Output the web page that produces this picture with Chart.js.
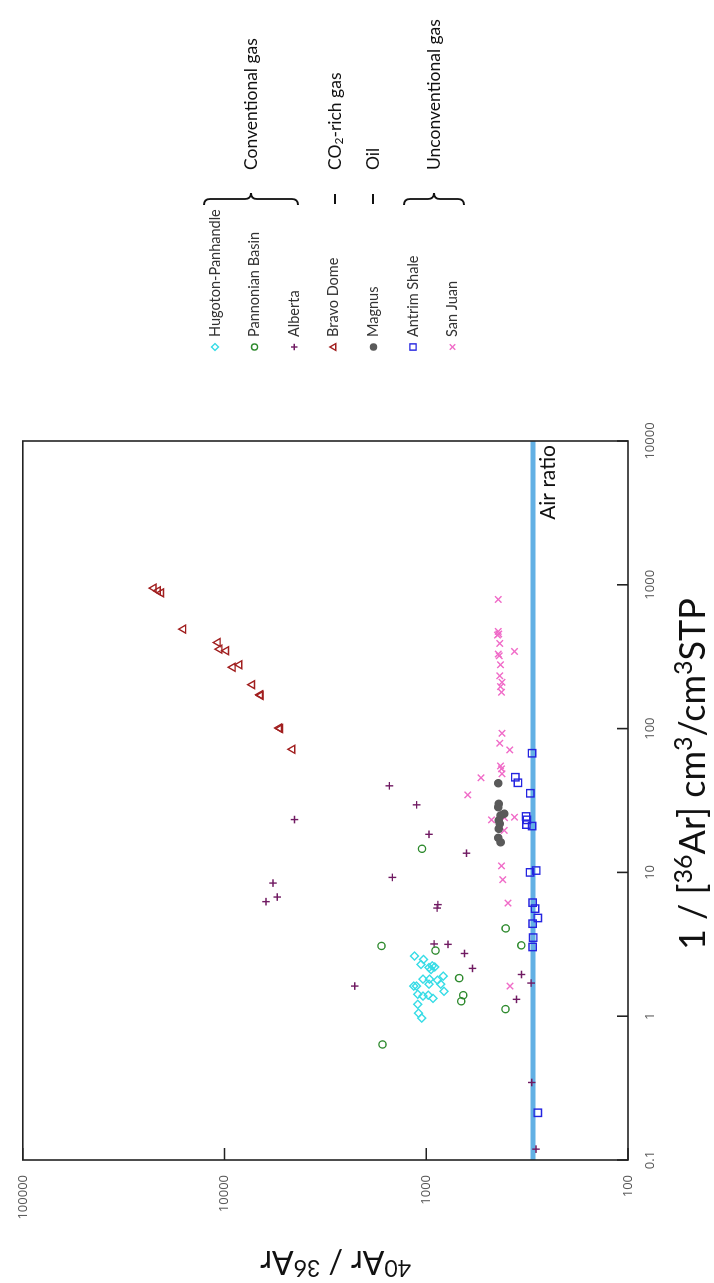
<!DOCTYPE html>
<html><head><meta charset="utf-8">
<script src="https://cdn.jsdelivr.net/npm/chart.js@4.4.0/dist/chart.umd.min.js"></script>
<style>
html,body{margin:0;padding:0;background:#fff;overflow:hidden;width:714px;height:1283px;}
#wrap{position:absolute;left:0;top:0;width:1283px;height:714px;transform-origin:0 0;transform:translate(0px,1283px) rotate(-90deg);background:#fff;}
canvas{display:block;}
</style></head><body>
<div id="wrap"><canvas id="c" width="1283" height="714"></canvas></div>
<script>
// ---- data (x = 1/[36Ar] cm3/cm3STP, y = 40Ar/36Ar) ----
const hugotonX = [2.62,2.48,2.29,2.18,2.24,2.20,2.11,1.81,1.81,1.78,1.90,1.67,1.67,1.62,1.62,1.49,1.42,1.38,1.40,1.33,1.21,1.05,0.97];
const hugotonY = [1145,1031,1062,970,934,907,948,1038,964,880,823,847,970,1154,1119,816,1103,1038,978,927,1103,1094,1054];
const pannonianX = [14.6,4.08,3.11,3.08,2.86,1.84,1.40,1.27,1.12,0.636];
const pannonianY = [1050,404,338,1668,900,687,656,671,405,1649];
const albertaX = [40.0,29.5,23.3,18.4,13.6,9.23,8.43,6.74,6.26,5.97,5.65,3.18,3.16,2.73,2.15,1.62,1.95,1.70,1.31,0.346,0.119];
const albertaY = [1523,1116,4502,970,632,1473,5752,5479,6225,876,883,914,780,646,590,2262,337,302,357,300,286];
const bravoX = [948,908,879,492,397,357,348,267,278,202,172,170,101,100,71.8];
const bravoY = [22450,21380,20590,16000,10790,10580,9810,9100,8440,7290,6660,6620,5360,5300,4610];
const magnusX = [41.7,30.0,28.4,25.6,24.9,23.0,21.8,20.1,17.4,16.2];
const magnusY = [440,437,440,411,428,437,432,437,440,428];
const antrimX = [67.4,45.9,42.0,35.5,24.5,23.2,21.5,21.0,10.0,10.3,6.16,5.60,4.82,4.40,3.52,3.03,0.213];
const antrimY = [299,362,351,305,320,317,319,299,306,285,297,289,280,297,295,297,280];
const sanJuanX = [791,474,455,447,391,330,321,344,278,233,210,196,179,92.8,79.1,71.1,55,52.5,48.5,45.5,34.6,23.2,24.0,24.2,19.6,11.1,8.9,6.12,1.62];
const sanJuanY = [440,440,437,444,432,440,435,365,428,432,421,429,424,421,432,386,428,424,421,536,623,475,409,365,411,424,418,393,385];
const airRatio = [295.5];
const airRatioX = [0.1, 10000];

const seriesNames = ['Hugoton-Panhandle','Pannonian Basin','Alberta','Bravo Dome','Magnus','Antrim Shale','San Juan'];
const xTickValues = [0.1,1,10,100,1000,10000];
const xTickLabels = ['0.1','1','10','100','1000','10000'];
const yTickValues = [100,1000,10000,100000];
const yTickLabels = ['100','1000','10000','100000'];

const zip = (xs, ys) => xs.map((v,i)=>({x:v, y:ys[i]}));
const styles = [
  {pointStyle:'rectRot', color:'#38DCE6', fill:false, r:4},
  {pointStyle:'circle', color:'#2E8A2E', fill:false, r:3.6},
  {pointStyle:'cross', color:'#701A62', fill:false, r:3.8},
  {pointStyle:'triangle', color:'#A11F1F', fill:false, r:4.6},
  {pointStyle:'circle', color:'#5A5A5A', fill:true, r:3.6},
  {pointStyle:'rect', color:'#2424E0', fill:false, r:5.2},
  {pointStyle:'crossRot', color:'#F06CC8', fill:false, r:4.6}
];
const seriesData = [
  zip(hugotonX,hugotonY), zip(pannonianX,pannonianY), zip(albertaX,albertaY),
  zip(bravoX,bravoY), zip(magnusX,magnusY), zip(antrimX,antrimY), zip(sanJuanX,sanJuanY)
];
const datasets = seriesNames.map((n,i)=>({
  label:n, data:seriesData[i], pointStyle:styles[i].pointStyle,
  pointRadius:styles[i].r, pointHoverRadius:styles[i].r,
  borderColor:styles[i].color, pointBorderColor:styles[i].color,
  backgroundColor: styles[i].fill ? styles[i].color : 'rgba(0,0,0,0)',
  pointBackgroundColor: styles[i].fill ? styles[i].color : 'rgba(0,0,0,0)',
  pointBorderWidth:1.4, showLine:false
}));
datasets.push({
  label:'Air ratio', data: airRatioX.map(v=>({x:v, y:airRatio[0]})),
  showLine:true, borderColor:'#62B0E4', borderWidth:5, pointRadius:0, fill:false
});

function drawRich(ctx, parts, x, y){
  let cx = x;
  parts.forEach(p=>{
    ctx.font = p.size + 'px Lato';
    ctx.fillText(p.t, cx, y + (p.dy||0));
    cx += ctx.measureText(p.t).width;
  });
  return cx - x;
}
function drawBrace(ctx, x0, y1, y2, w){
  const mid = (y1+y2)/2, h = w/2;
  ctx.beginPath();
  ctx.moveTo(x0, y1);
  ctx.quadraticCurveTo(x0+h, y1, x0+h, y1+h);
  ctx.lineTo(x0+h, mid-h);
  ctx.quadraticCurveTo(x0+h, mid, x0+w, mid);
  ctx.quadraticCurveTo(x0+h, mid, x0+h, mid+h);
  ctx.lineTo(x0+h, y2-h);
  ctx.quadraticCurveTo(x0+h, y2, x0, y2);
  ctx.stroke();
}

const deco = {
  id:'deco',
  afterDatasetsDraw(chart){
    const {ctx, chartArea:a, scales:{x,y}} = chart;
    ctx.save();
    ctx.strokeStyle='#222'; ctx.lineWidth=1.6;
    ctx.strokeRect(a.left, a.top, a.right-a.left, a.bottom-a.top);
    ctx.beginPath();
    xTickValues.forEach(v=>{const px=x.getPixelForValue(v); ctx.moveTo(px,a.bottom); ctx.lineTo(px,a.bottom-11);});
    yTickValues.forEach(v=>{const py=y.getPixelForValue(v); ctx.moveTo(a.left,py); ctx.lineTo(a.left+12,py);});
    ctx.stroke();
    // Air ratio label
    ctx.fillStyle='#111'; ctx.font='21px Lato'; ctx.textAlign='right'; ctx.textBaseline='alphabetic';
    ctx.fillText('Air ratio', a.right-4, y.getPixelForValue(airRatio[0]) + 22);
    ctx.textAlign='left';
    // x axis title
    ctx.fillStyle='#111';
    drawRich(ctx, [{t:'1 / [',size:36},{t:'36',size:25,dy:-13},{t:'Ar] cm',size:36},{t:'3',size:25,dy:-13},{t:'/cm',size:36},{t:'3',size:25,dy:-13},{t:'STP',size:36}], 333, 705);
    // y axis title (rotated)
    ctx.save();
    ctx.translate(32, 411); ctx.rotate(-Math.PI/2);
    drawRich(ctx, [{t:'40',size:23,dy:-9},{t:'Ar / ',size:32},{t:'36',size:23,dy:-9},{t:'Ar',size:32}], 0, 0);
    ctx.restore();
    // legend
    const H = Chart.helpers;
    ctx.textBaseline='middle';
    datasets.slice(0,7).forEach((d,i)=>{
      const vy = 215 + i*39.6;
      ctx.strokeStyle = styles[i].color;
      ctx.fillStyle = styles[i].fill ? styles[i].color : 'rgba(0,0,0,0)';
      ctx.lineWidth = 1.4;
      if (H && H.drawPoint) H.drawPoint(ctx, {pointStyle:styles[i].pointStyle, rotation:0, radius:styles[i].r*0.85, borderWidth:1.4}, 936, vy);
      ctx.fillStyle='#333'; ctx.font='14.5px Lato';
      ctx.fillText(d.label, 946, vy);
    });
    // group labels and braces
    ctx.strokeStyle='#111'; ctx.lineWidth=1.8; ctx.fillStyle='#111';
    drawBrace(ctx, 1078, 204, 298, 12);
    drawBrace(ctx, 1078, 404, 464, 12);
    ctx.beginPath(); ctx.moveTo(1079,335); ctx.lineTo(1089,335); ctx.moveTo(1079,373); ctx.lineTo(1089,373); ctx.stroke();
    ctx.textBaseline='middle';
    drawRich(ctx, [{t:'Conventional gas',size:17.5}], 1113, 251);
    drawRich(ctx, [{t:'CO',size:17.5},{t:'2',size:12,dy:4},{t:'-rich gas',size:17.5}], 1113, 335);
    drawRich(ctx, [{t:'Oil',size:17.5}], 1113, 373);
    drawRich(ctx, [{t:'Unconventional gas',size:17.5}], 1113, 434);
    ctx.restore();
  }
};

new Chart(document.getElementById('c'), {
  type:'scatter',
  data:{datasets},
  options:{
    responsive:false, animation:false, devicePixelRatio:1,
    layout:{padding:{top:17,right:441,left:0,bottom:0}},
    plugins:{legend:{display:false}, tooltip:{enabled:false}},
    scales:{
      x:{type:'logarithmic', position:'bottom', min:0.1, max:10000,
        grid:{display:false, drawTicks:false}, border:{display:false},
        ticks:{padding:14, color:'#595959', font:{family:'Open Sans', size:13}, maxRotation:0, autoSkip:false,
          callback:(v,i)=>xTickLabels[i]},
        afterBuildTicks:s=>{s.ticks = xTickValues.map(v=>({value:v}));},
        afterFit:s=>{s.height = 86;}
      },
      y:{type:'logarithmic', position:'left', min:100, max:100000,
        grid:{display:false, drawTicks:false}, border:{display:false},
        ticks:{padding:15, color:'#595959', font:{family:'Open Sans', size:13}, autoSkip:false,
          callback:(v,i)=>yTickLabels[i]},
        afterBuildTicks:s=>{s.ticks = yTickValues.map(v=>({value:v}));},
        afterFit:s=>{s.width = 123;}
      }
    }
  },
  plugins:[deco]
});
</script></body></html>
